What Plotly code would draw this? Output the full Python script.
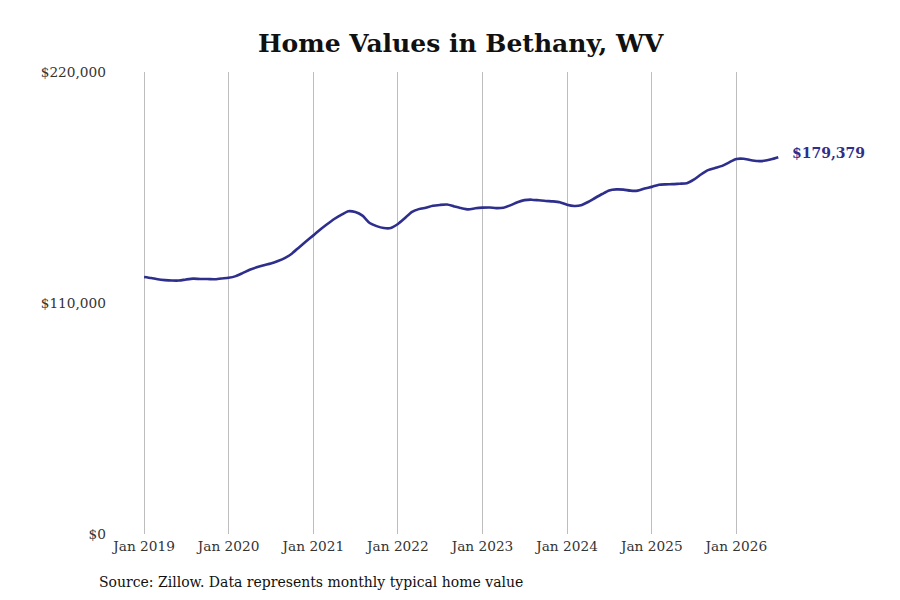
import pandas as pd
import plotly.graph_objects as go

# Monthly typical home value, Jan 2019 - Jul 2026
dates = pd.date_range("2019-01-01", "2026-07-01", freq="MS")
values = [
    122400, 121900, 121300, 120900, 120700, 120700, 121200, 121600, 121400, 121400, 121300, 121700,  # 2019
    122000, 122800, 124200, 125800, 127000, 128000, 128800, 130000, 131500, 133600, 136600, 139400,  # 2020
    142200, 145100, 147500, 150000, 152000, 153700, 153300, 151600, 148100, 146600, 145700, 145700,  # 2021
    147600, 150500, 153300, 154700, 155400, 156300, 156700, 156900, 156000, 155200, 154600, 155100,  # 2022
    155400, 155500, 155200, 155400, 156500, 158000, 159000, 159200, 158900, 158600, 158400, 158000,  # 2023
    156800, 156200, 156500, 158100, 160000, 161900, 163600, 164100, 164000, 163500, 163500, 164500,  # 2024
    165300, 166300, 166500, 166600, 166800, 167000, 168700, 171200, 173300, 174300, 175300, 177000,  # 2025
    178600, 178700, 178100, 177600, 177700, 178400, 179379,                                          # 2026
]
ytick_vals = [0, 110000, 220000]
ytick_text = ["$0", "$110,000", "$220,000"]
last_label = "$179,379"

line_color = "#2e2e8c"
serif = "DejaVu Serif"

fig = go.Figure()

fig.add_trace(go.Scatter(
    x=dates, y=values, mode="lines",
    line=dict(color=line_color, width=2.6, shape="spline", smoothing=0.6),
    showlegend=False, hoverinfo="skip"))

# Label the latest value
fig.add_annotation(
    x=dates[-1], y=values[-1], text="<b>" + last_label + "</b>",
    showarrow=False, xanchor="left", xshift=12, yshift=4,
    font=dict(family=serif, size=14, color=line_color))

# Source note
fig.add_annotation(
    x=-0.013, y=-0.104, xref="paper", yref="paper",
    text="Source: Zillow. Data represents monthly typical home value",
    showarrow=False, xanchor="left", yanchor="middle",
    font=dict(family=serif, size=14, color="#111111"))

fig.update_layout(
    width=900, height=600,
    title=dict(text="<b>Home Values in Bethany, WV</b>", x=0.503, xanchor="center",
               y=0.9417, yanchor="middle",
               font=dict(family=serif, size=25, color="#111111")),
    margin=dict(l=99, r=38, t=64, b=74),
    plot_bgcolor="white", paper_bgcolor="white",
    font=dict(family=serif, size=13.7, color="#333333"),
)

fig.update_xaxes(
    range=["2018-07-25", "2027-08-01"],
    tickvals=pd.date_range("2019-01-01", "2026-01-01", freq="YS"),
    tickformat="%b %Y",
    showgrid=True, gridcolor="#bdbdbd", gridwidth=1,
    showline=False, zeroline=False, ticks="", ticklabelstandoff=2)

fig.update_yaxes(
    range=[0, 220000], tickvals=ytick_vals, ticktext=ytick_text,
    showgrid=False, zeroline=False, showline=False, ticks="")

fig.write_html("out.html")
